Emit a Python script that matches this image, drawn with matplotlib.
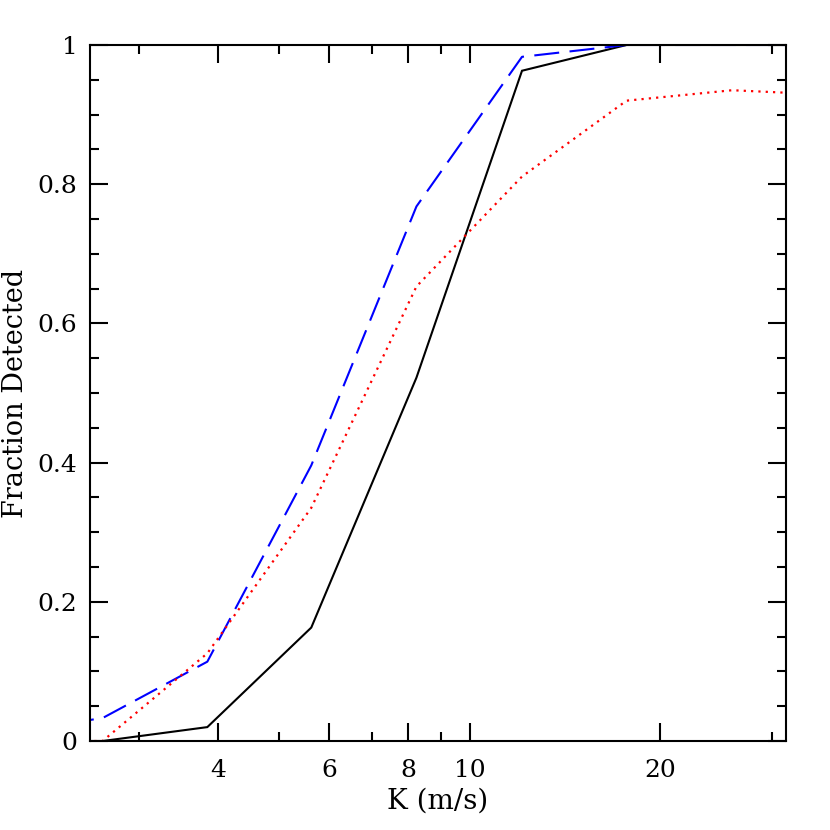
import matplotlib
matplotlib.use("Agg")
import matplotlib.pyplot as plt
from matplotlib.ticker import FixedLocator, FixedFormatter, NullFormatter

# velocity semi-amplitude grid (m/s)
k_values = [1.79, 2.63, 3.85, 5.62, 8.24, 12.1, 17.7, 26.0, 38.1]

# fraction detected for each curve
frac_solid = [0.0, 0.0, 0.020, 0.163, 0.522, 0.963, 1.0, 1.0, 1.0]
frac_dashed = [0.01, 0.033, 0.114, 0.396, 0.768, 0.983, 1.0, 1.0, 1.0]
frac_dotted = [0.0, 0.0, 0.126, 0.335, 0.653, 0.811, 0.920, 0.935, 0.928]

x_major = [4, 6, 8, 10, 20]
x_minor = [3, 5, 7, 9, 30]
y_major = [0, 0.2, 0.4, 0.6, 0.8, 1.0]
y_labels = ["0", "0.2", "0.4", "0.6", "0.8", "1"]

plt.rcParams["font.family"] = ["DejaVu Serif"]
plt.rcParams["font.size"] = 18

fig = plt.figure(figsize=(8.3, 8.3), dpi=100)
ax = fig.add_axes([0.1084, 0.1072, 0.8386, 0.8386])

ax.plot(k_values, frac_solid, color="black", lw=1.5, solid_joinstyle="miter")
ax.plot(k_values, frac_dashed, color="#0000ff", lw=1.5, linestyle=(0, (12, 5)))
ax.plot(k_values, frac_dotted, color="#ff0000", lw=1.6, linestyle=(0, (1, 2.3)))

ax.set_xscale("log")
ax.set_xlim(10 ** 0.4, 10 ** 1.5)
ax.set_ylim(0, 1)

ax.xaxis.set_major_locator(FixedLocator(x_major))
ax.xaxis.set_major_formatter(FixedFormatter([str(v) for v in x_major]))
ax.xaxis.set_minor_locator(FixedLocator(x_minor))
ax.xaxis.set_minor_formatter(NullFormatter())
ax.yaxis.set_major_locator(FixedLocator(y_major))
ax.yaxis.set_major_formatter(FixedFormatter(y_labels))
ax.yaxis.set_minor_locator(FixedLocator([i * 0.05 for i in range(21)]))

ax.tick_params(which="both", direction="in", top=True, right=True, width=1.5)
ax.tick_params(which="major", length=13)
ax.tick_params(axis="x", which="major", pad=13)
ax.tick_params(axis="y", which="major", pad=9)
ax.tick_params(which="minor", length=6.5)
for s in ax.spines.values():
    s.set_linewidth(1.5)

ax.set_xlabel("K (m/s)", fontsize=20, labelpad=4)
ax.set_ylabel("Fraction Detected", fontsize=19.5, labelpad=6)

fig.savefig("out.png", dpi=100)
